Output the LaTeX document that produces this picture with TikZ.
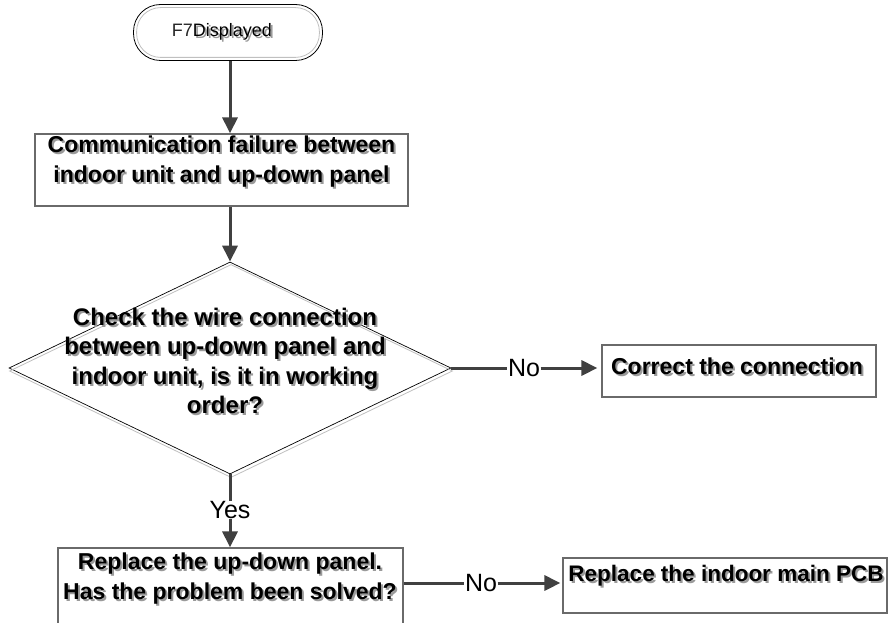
\documentclass[tikz,border=0pt]{standalone}
\usepackage{fontspec}
\setmainfont{Liberation Sans}
\usetikzlibrary{arrows.meta,shapes.geometric}
\definecolor{arrowgray}{HTML}{404040}
\definecolor{boxgray}{HTML}{6A6A6A}
\definecolor{shadowgray}{HTML}{9A9A9A}
\definecolor{outlinegray}{HTML}{C0C0C0}
\newcommand\shd[1]{\leavevmode\rlap{\kern2pt\raisebox{-2pt}{\textcolor{shadowgray}{#1}}}#1}
\begin{document}
\begin{tikzpicture}[x=1pt,y=-1pt,
  boxshape/.style={draw=boxgray, line width=1.2pt, rectangle, inner sep=0pt},
  termshape/.style={draw=black, line width=0.8pt, rectangle, rounded corners=27pt, inner sep=0pt},
  diashape/.style={draw=black, line width=0.7pt, diamond, inner sep=0pt},
  txt/.style={font=\fontsize{23}{30}\selectfont\bfseries, align=center, inner sep=0pt},
  lab/.style={font=\fontsize{25}{30}\selectfont, inner sep=0.5pt},
  ln/.style={draw=arrowgray, line width=3pt},
  arr/.style={draw=arrowgray, line width=3pt, -{Triangle[length=16pt,width=15pt]}}
]
\clip (0,0) rectangle (889,623);
\fill[white] (0,0) rectangle (889,623);

% start terminator
\node[termshape, minimum width=189pt, minimum height=56pt] (start) at (228,32.5) {};
\draw[outlinegray, line width=0.8pt, rounded corners=24pt]
  ([shift={(3.5,3.5)}]start.north west) rectangle ([shift={(-3.5,-3.5)}]start.south east);
\node[inner sep=0pt, font=\fontsize{18}{20}\selectfont] (starttext) at (222,33)
  {\textcolor{black!85}{F7}\shd{Displayed}};

% box 1
\node[boxshape, minimum width=373pt, minimum height=72pt] (box1) at (221.5,170) {};
\node[txt] (t1) at (221.5,163)
  {\shd{Communication failure between}\\\shd{indoor unit and up-down panel}};

% decision diamond
\node[diashape, minimum width=442pt, minimum height=212pt] (dia) at (230,368) {};
\draw[outlinegray, line width=0.8pt]
  ([shift={(1,3)}]dia.north) -- ([shift={(1,3)}]dia.east) --
  ([shift={(1,3)}]dia.south) -- ([shift={(1,3)}]dia.west) -- cycle;
\node[txt, font=\fontsize{24}{29.5}\selectfont\bfseries] (t2) at (225,362)
  {\shd{Check the wire connection}\\\shd{between up-down panel and}\\
   \shd{indoor unit, is it in working}\\\shd{order?}};

% box 2
\node[boxshape, minimum width=274pt, minimum height=52pt] (box2) at (739,371) {};
\node[txt] (t3) at (737,367) {\shd{Correct the connection}};

% box 3 (cut at bottom)
\node[boxshape, minimum width=345pt, minimum height=96pt] (box3) at (230.5,596) {};
\node[txt] (t4) at (230,580)
  {\shd{Replace the up-down panel.}\\\shd{Has the problem been solved?}};

% box 4
\node[boxshape, minimum width=324pt, minimum height=55pt] (box4) at (725,585.5) {};
\node[txt, font=\fontsize{22.5}{30}\selectfont\bfseries] (t5) at (726,577) {\shd{Replace the indoor main PCB}};

% labels
\node[lab] (yes) at (230,510) {Yes};
\node[lab] (no1) at (524,368) {No};
\node[lab] (no2) at (481,583) {No};

% connectors
\draw[arr] (start.south -| dia.north) -- (box1.north -| dia.north);
\draw[arr] (box1.south -| dia.north) -- (dia.north);
\draw[ln] (dia.south) -- (yes.north);
\draw[arr] (yes.south) -- (box3.north -| yes.south);
\draw[ln] (dia.east) -- (no1.west);
\draw[arr, shorten >=4pt] (no1.east) -- (no1 -| box2.west);
\draw[ln] (no2 -| box3.east) -- (no2.west);
\draw[arr, shorten >=2pt] (no2.east) -- (no2 -| box4.west);
\end{tikzpicture}
\end{document}
